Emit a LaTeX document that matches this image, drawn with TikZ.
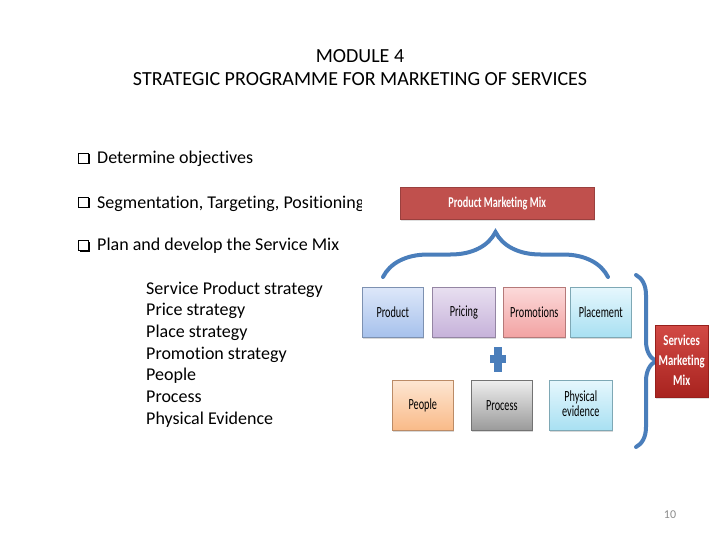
\documentclass[tikz,border=0pt]{standalone}
\usepackage{fontspec}
\setmainfont[Ligatures=NoCommon]{Carlito}
\usetikzlibrary{decorations.pathreplacing,shadows}

\definecolor{mixred}{HTML}{C0504D}
\definecolor{bracecol}{HTML}{4A7EBB}
\definecolor{prodtop}{HTML}{DDE7F9}\definecolor{prodbot}{HTML}{A6C1EC}
\definecolor{pricetop}{HTML}{E8DFF0}\definecolor{pricebot}{HTML}{C6B2DA}
\definecolor{promotop}{HTML}{FCDADA}\definecolor{promobot}{HTML}{F2A2A2}
\definecolor{placetop}{HTML}{E6F7FD}\definecolor{placebot}{HTML}{A8E0F2}
\definecolor{peoptop}{HTML}{FDE6D2}\definecolor{peopbot}{HTML}{F9BA88}
\definecolor{proctop}{HTML}{EEEEEE}\definecolor{procbot}{HTML}{9A9A9A}
\definecolor{smmtop}{HTML}{D24A45}\definecolor{smmbot}{HTML}{A8231F}
\definecolor{pagegray}{HTML}{8C8C8C}
\newcommand{\cond}[1]{\scalebox{0.66}[1]{#1}}

\tikzset{
  mixbox/.style 2 args={top color=#1,bottom color=#2,draw=#2!75!black,line width=0.6pt,
    minimum height=50pt,inner sep=0pt,anchor=north west,font=\fontsize{15.5}{16}\selectfont,
    drop shadow={opacity=0.3,shadow xshift=0.8pt,shadow yshift=-1.6pt}},
  chkbox/.style={draw,line width=0.8pt,minimum size=10pt,inner sep=0pt,fill=white,
    general shadow={fill=black,shadow xshift=1.5pt,shadow yshift=-1.5pt}},
  bodytext/.style={anchor=base west,inner sep=0pt,font=\fontsize{18}{20}\selectfont},
  curly/.style={decorate,draw=bracecol,line width=4pt,line cap=round},
}

\begin{document}
\begin{tikzpicture}[x=1pt,y=-1pt]
\useasboundingbox[fill=white] (0,0) rectangle (720,540);
% heading
\node[anchor=base,font=\fontsize{20}{22}\selectfont] (title) at (360,63) {MODULE 4};
\node[anchor=base,font=\fontsize{20}{22}\selectfont] (subtitle) at (360,86) {STRATEGIC PROGRAMME FOR MARKETING OF SERVICES};
% bullets
\node[chkbox] (c1) at (83,158) {};\node[bodytext] (b1) at (97,164) {Determine objectives};
\node[chkbox] (c2) at (83,202) {};
\begin{scope}
\clip (0,180) rectangle (361,230);
\node[bodytext] (b2) at (97,208) {Segmentation, Targeting, Positioning};
\end{scope}
\node[chkbox] (c3) at (83,245) {};\node[bodytext] (b3) at (97,251) {Plan and develop the Service Mix};
% sub list
\foreach \txt [count=\i] in {Service Product strategy,Price strategy,Place strategy,Promotion strategy,People,Process,Physical Evidence}
  \node[bodytext] (s\i) at (146,{294+21.67*(\i-1)}) {\txt};
% product marketing mix
\node[fill=mixred,draw=mixred!80!black,anchor=north west,minimum width=194pt,minimum height=32pt,inner sep=0pt,
  text=white,font=\bfseries\fontsize{15}{17}\selectfont,
  drop shadow={opacity=0.25,shadow xshift=0.8pt,shadow yshift=-1.6pt}] (pmm) at (400,187) {\scalebox{0.68}[1]{Product Marketing Mix}};
\coordinate (pl) at (383,277);\coordinate (pr) at (608,277);
\draw[curly,decoration={brace,amplitude=45pt}] (pl) -- (pr);
% the seven p
\node[mixbox={prodtop}{prodbot},minimum width=61pt] (product) at (362,287) {\cond{Product}};
\node[mixbox={pricetop}{pricebot},minimum width=63pt] (pricing) at (432,287) {\cond{Pricing}};
\node[mixbox={promotop}{promobot},minimum width=62pt] (promotions) at (503,287) {\cond{Promotions}};
\node[mixbox={placetop}{placebot},minimum width=61pt] (placement) at (570,287) {\cond{Placement}};
\node[mixbox={peoptop}{peopbot},minimum width=61pt] (people) at (392,380) {\cond{People}};
\node[mixbox={proctop}{procbot},minimum width=61pt] (process) at (471,380) {\cond{Process}};
\node[mixbox={placetop}{placebot},minimum width=63pt] (physical) at (549,380) {\cond{\begin{tabular}{@{}c@{}}Physical\\[-1pt]evidence\end{tabular}}};
% plus
\fill[bracecol] (494,347) rectangle (502,372);
\fill[bracecol] (490,355) rectangle (506,363);
% services marketing mix
\coordinate (st) at (636,275);\coordinate (sb) at (636,447);
\draw[curly,decoration={brace,amplitude=20pt}] (st) -- (sb);
\node[top color=smmtop,bottom color=smmbot,draw=smmbot!90!black,anchor=north west,minimum width=53pt,minimum height=72pt,
  inner sep=0pt,text=white,font=\bfseries\fontsize{15}{20}\selectfont,
  drop shadow={opacity=0.25,shadow xshift=0.8pt,shadow yshift=-1.6pt}] (smm) at (655,325)
  {\scalebox{0.72}[1]{\begin{tabular}{@{}c@{}}Services\\Marketing\\Mix\end{tabular}}};
% page number
\node[text=pagegray,font=\fontsize{12}{14}\selectfont] (pageno) at (670,515) {10};
\end{tikzpicture}
\end{document}
